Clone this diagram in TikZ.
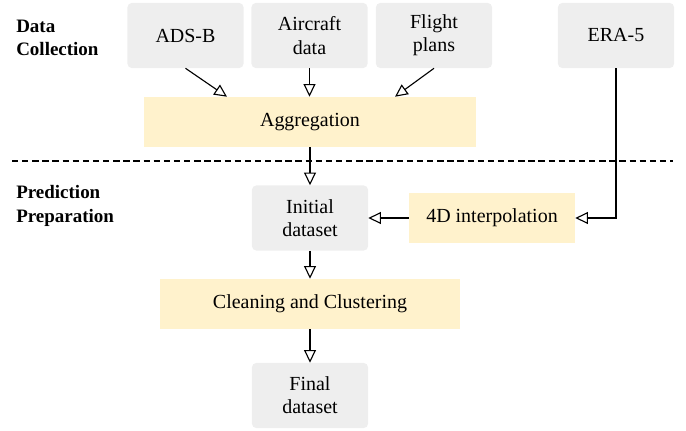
\documentclass[tikz,border=0pt]{standalone}
\usepackage{fontspec}
\setmainfont{Liberation Serif}
\usetikzlibrary{arrows.meta}

\definecolor{boxgray}{HTML}{EEEEEE}
\definecolor{boxyellow}{HTML}{FFF2CC}

\begin{document}
\begin{tikzpicture}[x=0.025cm,y=-0.025cm,
	>={Triangle[open,length=9pt,width=8.5pt]},
	every node/.style={font=\fontsize{14.2}{16.5}\selectfont},
	srcbox/.style={fill=boxgray,rounded corners=3pt,minimum width=2.9cm,
		minimum height=1.625cm,align=center,inner sep=0pt},
	procbox/.style={fill=boxyellow,minimum height=1.25cm,align=center,inner sep=0pt},
	phase/.style={anchor=west,align=left,inner sep=0pt,
		font=\fontsize{13.5}{16.5}\selectfont\bfseries},
	flow/.style={->,line width=0.8pt}]

\useasboundingbox (0,0) rectangle (686,430);

% data sources
\node[srcbox] (adsb) at (185.5,35.5) {ADS-B};
\node[srcbox] (aircraft) at (309.5,35.5) {Aircraft\\data};
\node[srcbox] (plans) at (434,35.5) {Flight\\plans};
\node[srcbox] (era) at (616,35.5) {ERA-5};

\node[procbox,minimum width=8.3cm] (agg) at (310,122) {Aggregation};

% phase labels
\node[phase] (collect) at (16,38) {Data\\Collection};
\node[phase] (predict) at (16,206) {Prediction\\Preparation};

\coordinate (sepl) at (12,161);
\coordinate (sepr) at (673,161);
\draw[line width=0.8pt,dash pattern=on 4.5pt off 2.7pt] (sepl) -- (sepr);

% preparation
\node[srcbox] (initial) at (310,218) {Initial\\dataset};
\node[procbox,minimum width=4.15cm] (interp) at (492,218) {4D interpolation};
\node[procbox,minimum width=7.475cm] (clean) at (310,304) {Cleaning and Clustering};
\node[srcbox] (final) at (310,395.5) {Final\\dataset};

\draw[flow] (adsb.south) -- ([xshift=-2.075cm]agg.north);
\draw[flow] (aircraft.south) -- (aircraft.south |- agg.north);
\draw[flow] (plans.south) -- ([xshift=2.125cm]agg.north);
\draw[flow] (era.south) |- (interp.east);
\draw[flow] (interp.west) -- (initial.east);
\draw[flow] (agg.south) -- (initial.north);
\draw[flow] (initial.south) -- (clean.north);
\draw[flow] (clean.south) -- (final.north);

\end{tikzpicture}
\end{document}
